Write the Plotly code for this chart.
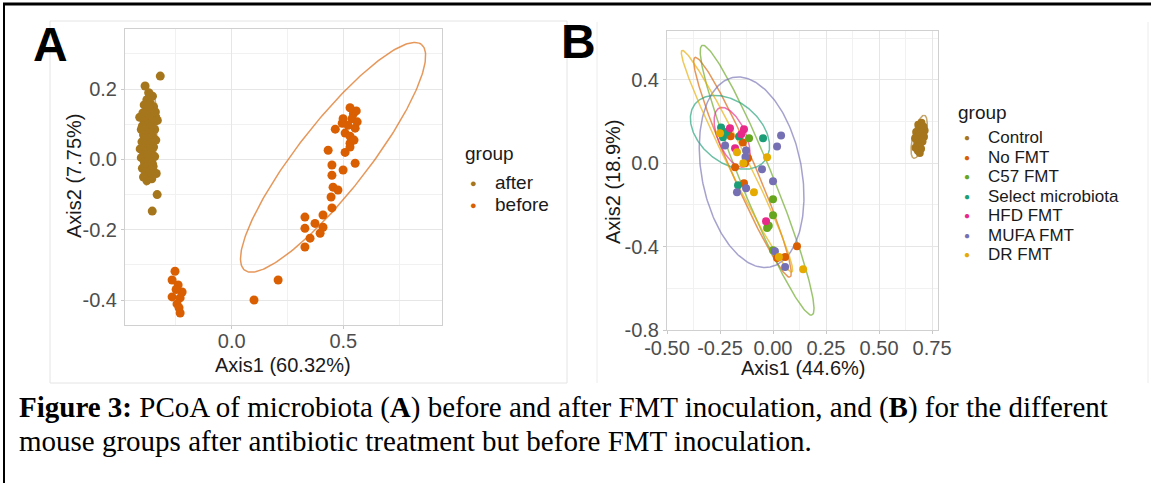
import numpy as np
import plotly.graph_objects as go

W, H = 1151, 483

# ---------------- Panel A data ----------------
groups_a = ["after", "before"]
colors_a = ["#A6761D", "#D95F02"]

after_x = [-0.320, -0.388, -0.334, -0.356, -0.372, -0.355, -0.380, -0.365, -0.392,
           -0.350, -0.375, -0.360, -0.398, -0.384, -0.340, -0.368, -0.392, -0.352,
           -0.378, -0.400, -0.362, -0.345, -0.385, -0.370, -0.395, -0.355, -0.378,
           -0.340, -0.402, -0.365, -0.388, -0.350, -0.375, -0.398, -0.360, -0.382,
           -0.345, -0.405, -0.370, -0.390, -0.355, -0.378, -0.400, -0.362, -0.385,
           -0.348, -0.372, -0.395, -0.358, -0.380, -0.405, -0.342, -0.410, -0.352,
           -0.333, -0.338, -0.412, -0.368]
after_y = [0.237, 0.209, -0.100, -0.147, 0.190, 0.180, 0.170, 0.160, 0.155,
           0.150, 0.145, 0.138, 0.132, 0.128, 0.120, 0.118, 0.110, 0.105,
           0.100, 0.095, 0.092, 0.085, 0.082, 0.075, 0.070, 0.066, 0.060,
           0.055, 0.050, 0.045, 0.040, 0.035, 0.030, 0.025, 0.018, 0.012,
           0.008, 0.005, 0.000, -0.008, -0.012, -0.020, -0.025, -0.030, -0.035,
           -0.038, -0.045, -0.050, -0.055, -0.060, 0.085, 0.135, 0.030, -0.020,
           0.111, -0.040, 0.120, 0.183]

before_x = [0.545, 0.464, 0.432, 0.495, 0.553, 0.449, 0.449, 0.499, 0.454, 0.476,
            0.445, 0.449, 0.409, 0.328, 0.373, 0.409, 0.328, 0.396, 0.351, 0.328,
            0.530, 0.508, 0.530, 0.558, 0.539, 0.521, 0.553, 0.508, 0.530, 0.548,
            0.499, 0.562, 0.530, 0.100, 0.208,
            -0.254, -0.267, -0.240, -0.222, -0.267, -0.231, -0.245, -0.236, -0.231, -0.249]
before_y = [0.130, 0.086, 0.026, 0.103, -0.011, -0.016, -0.045, -0.030, -0.079, -0.087,
            -0.107, -0.138, -0.158, -0.164, -0.182, -0.193, -0.196, -0.210, -0.224, -0.249,
            0.046, 0.020, 0.035, 0.138, 0.116, 0.097, 0.089, 0.075, 0.066, 0.055,
            0.116, 0.107, 0.147, -0.400, -0.343,
            -0.318, -0.343, -0.357, -0.377, -0.391, -0.394, -0.411, -0.422, -0.437, -0.370]

# ellipse parameters: centre, major half-vector, minor half-vector (data units)
ell_a_cx = [-0.372, 0.454]
ell_a_cy = [0.062, 0.006]
ell_a_ax = [0.010, 0.396]
ell_a_ay = [0.135, 0.321]
ell_a_bx = [0.036, 0.123]
ell_a_by = [-0.002, -0.061]

# ---------------- Panel B data ----------------
groups_b = ["Control", "No FMT", "C57 FMT", "Select microbiota", "HFD FMT", "MUFA FMT", "DR FMT"]
colors_b = ["#A6761D", "#D95F02", "#66A61E", "#1B9E77", "#E7298A", "#7570B3", "#E6AB02"]

b_x = [
    [0.700, 0.685, 0.710, 0.690, 0.715, 0.675, 0.700, 0.688, 0.712, 0.670, 0.695, 0.705,
     0.680, 0.690, 0.672, 0.698, 0.683, 0.692],
    [-0.212, -0.142, -0.179, -0.132, -0.137, -0.118, 0.019, 0.057, 0.113, -0.200],
    [-0.113, 0.000, 0.000, -0.028, 0.000, -0.020],
    [-0.245, -0.160, -0.047, -0.236, -0.165, -0.220],
    [-0.203, -0.137, -0.179, -0.033, -0.150],
    [0.038, 0.019, -0.226, -0.127, -0.052, 0.000, -0.170, -0.127, 0.009, 0.057, -0.130],
    [-0.170, -0.028, -0.250, -0.090, 0.028, 0.142, -0.140],
]
b_y = [
    [0.195, 0.185, 0.175, 0.165, 0.158, 0.150, 0.145, 0.135, 0.128, 0.120, 0.115, 0.105,
     0.098, 0.085, 0.075, 0.070, 0.060, 0.050],
    [0.144, 0.100, -0.019, 0.000, -0.096, 0.024, -0.455, -0.450, -0.398, 0.130],
    [0.120, -0.172, -0.249, -0.311, -0.417, -0.300],
    [0.172, 0.129, 0.120, 0.125, -0.105, 0.150],
    [0.168, 0.163, 0.072, -0.278, 0.140],
    [0.134, 0.081, 0.086, 0.062, -0.029, -0.086, -0.139, -0.120, -0.422, -0.498, 0.030],
    [0.053, 0.029, 0.144, -0.139, -0.450, -0.508, 0.000],
]

ell_b_cx = [0.689, -0.144, -0.075, -0.203, -0.193, -0.101, -0.170]
ell_b_cy = [0.127, -0.019, -0.081, 0.149, 0.125, -0.043, 0.010]
ell_b_ax = [0.021, 0.224, 0.259, 0.163, 0.059, 0.087, 0.259]
ell_b_ay = [0.103, -0.527, -0.647, -0.138, -0.141, -0.455, -0.532]
ell_b_bx = [0.032, 0.052, 0.070, 0.091, 0.061, 0.231, 0.042]
ell_b_by = [0.007, 0.023, 0.029, 0.111, 0.026, 0.046, 0.021]

caption1 = ("<b>Figure 3:</b> PCoA of microbiota (<b>A</b>) before and after FMT inoculation, "
            "and (<b>B</b>) for the different")
caption2 = "mouse groups after antibiotic treatment but before FMT inoculation."


def rgba(hexc, a):
    h = hexc.lstrip("#")
    return "rgba(%d,%d,%d,%.2f)" % (int(h[0:2], 16), int(h[2:4], 16), int(h[4:6], 16), a)


def ellipse(cx, cy, ax, ay, bx, by):
    t = np.linspace(0, 2 * np.pi, 240)
    return cx + ax * np.cos(t) + bx * np.sin(t), cy + ay * np.cos(t) + by * np.sin(t)


def px(x):
    return x / W


def py(y):
    return 1 - y / H


fig = go.Figure()

# Panel A
for i, g in enumerate(groups_a):
    ex, ey = ellipse(ell_a_cx[i], ell_a_cy[i], ell_a_ax[i], ell_a_ay[i], ell_a_bx[i], ell_a_by[i])
    fig.add_trace(go.Scatter(x=ex, y=ey, mode="lines", line=dict(color=rgba(colors_a[i], 0.65), width=1.5),
                             xaxis="x", yaxis="y", showlegend=False, hoverinfo="skip"))
fig.add_trace(go.Scatter(x=after_x, y=after_y, mode="markers", name="after",
                         marker=dict(color=colors_a[0], size=9), xaxis="x", yaxis="y", showlegend=False))
fig.add_trace(go.Scatter(x=before_x, y=before_y, mode="markers", name="before",
                         marker=dict(color=colors_a[1], size=9), xaxis="x", yaxis="y", showlegend=False))

# Panel B
for i, g in enumerate(groups_b):
    ex, ey = ellipse(ell_b_cx[i], ell_b_cy[i], ell_b_ax[i], ell_b_ay[i], ell_b_bx[i], ell_b_by[i])
    fig.add_trace(go.Scatter(x=ex, y=ey, mode="lines", line=dict(color=rgba(colors_b[i], 0.65), width=1.5),
                             xaxis="x2", yaxis="y2", showlegend=False, hoverinfo="skip"))
for i, g in enumerate(groups_b):
    fig.add_trace(go.Scatter(x=b_x[i], y=b_y[i], mode="markers", name=g,
                             marker=dict(color=colors_b[i], size=8), xaxis="x2", yaxis="y2",
                             showlegend=False))

tickfont = dict(family="Liberation Sans, Arial", size=20, color="#4D4D4D")
axis_common = dict(showline=True, linecolor="#D0D0D0", linewidth=1, mirror=True,
                   ticks="outside", ticklen=3, tickcolor="#C8C8C8", automargin=False,
                   showgrid=True, gridcolor="#E6E6E6", gridwidth=1, zeroline=False,
                   tickfont=tickfont, fixedrange=True)

fig.update_layout(
    width=W, height=H, autosize=False,
    margin=dict(l=0, r=0, t=0, b=0, pad=0, autoexpand=False),
    paper_bgcolor="white", plot_bgcolor="white",
    showlegend=False,
    xaxis=dict(domain=[px(125), px(442)], range=[-0.478, 0.942], anchor="y",
               tickvals=[0, 0.5], ticktext=["0.0", "0.5"], ticklabelstandoff=-5,
               minor=dict(tickvals=[-0.25, 0.25, 0.75], showgrid=True, gridcolor="#F1F1F1", ticks=""),
               **axis_common),
    yaxis=dict(domain=[py(325), py(29)], range=[-0.471, 0.371], anchor="x",
               tickvals=[-0.4, -0.2, 0, 0.2], ticktext=["-0.4", "-0.2", "0.0", "0.2"],
               minor=dict(tickvals=[-0.3, -0.1, 0.1, 0.3], showgrid=True, gridcolor="#F1F1F1", ticks=""),
               **axis_common),
    xaxis2=dict(domain=[px(667), px(938)], range=[-0.5, 0.778], anchor="y2",
                tickvals=[-0.5, -0.25, 0, 0.25, 0.5, 0.75],
                ticktext=["-0.50", "-0.25", "0.00", "0.25", "0.50", "0.75"], ticklabelstandoff=-3,
                minor=dict(tickvals=[-0.375, -0.125, 0.125, 0.375, 0.625], showgrid=True,
                           gridcolor="#F1F1F1", ticks=""),
                **axis_common),
    yaxis2=dict(domain=[py(330), py(31)], range=[-0.8, 0.635], anchor="x2",
                tickvals=[-0.8, -0.4, 0, 0.4], ticktext=["-0.8", "-0.4", "0.0", "0.4"],
                minor=dict(tickvals=[-0.6, -0.2, 0.2, 0.6], showgrid=True, gridcolor="#F1F1F1", ticks=""),
                **axis_common),
)

anns = []
sans = "Liberation Sans, Arial"
serif = "Liberation Serif, Times New Roman"


def ann(text, x, y, size, color="#000000", xanchor="center", yanchor="middle", angle=0,
        family=sans, align="center"):
    anns.append(dict(text=text, x=px(x), y=py(y), xref="paper", yref="paper", showarrow=False,
                     xanchor=xanchor, yanchor=yanchor, textangle=angle, align=align,
                     font=dict(family=family, size=size, color=color)))


# panel letters
ann("<b>A</b>", 31, 44, 48, xanchor="left")
ann("<b>B</b>", 559, 42, 48, xanchor="left")

# axis titles
ann("Axis1 (60.32%)", 283, 365, 20, color="#1A1A1A")
ann("Axis2 (7.75%)", 74, 176, 20, color="#1A1A1A", angle=-90)
ann("Axis1 (44.6%)", 803, 368, 20, color="#1A1A1A")
ann("Axis2 (18.9%)", 613, 182, 20, color="#1A1A1A", angle=-90)


def legend_block(title, title_y, names, cols, first_y, step, key_x, text_x, key_size, text_size):
    base = step / 1.3  # line spacing of a multi-line annotation is 1.3 em of its base font
    ann(title, text_x - 30, title_y, 19, color="#1A1A1A", xanchor="left")
    mid = first_y + step * (len(names) - 1) / 2
    keys = "<br>".join("<span style='color:%s;font-size:%dpx'>●</span>" % (c, key_size) for c in cols)
    labels = "<br>".join("<span style='font-size:%spx'>%s</span>" % (text_size, n) for n in names)
    ann(keys, key_x, mid, base, xanchor="center", align="center")
    ann(labels, text_x, mid, base, color="#1A1A1A", xanchor="left", align="left")


legend_block("group", 153, groups_a, colors_a, 183, 21.7, 473, 493, 11, 19)
legend_block("group", 113, groups_b, colors_b, 138, 19.5, 967, 986, 10, 17)

# caption
ann(caption1, 17, 407, 29, xanchor="left", family=serif)
ann(caption2, 17, 441, 29, xanchor="left", family=serif)

fig.update_layout(annotations=anns)

shapes = [
    # outer frame
    dict(type="line", xref="paper", yref="paper", x0=px(3), x1=1, y0=py(4), y1=py(4),
         line=dict(color="black", width=3)),
    dict(type="line", xref="paper", yref="paper", x0=px(4), x1=px(4), y0=py(3), y1=0,
         line=dict(color="black", width=2)),
    # embedded image borders
    dict(type="rect", xref="paper", yref="paper", x0=px(50), x1=px(567), y0=py(383), y1=py(21),
         line=dict(color="#E4E4E4", width=1)),
    dict(type="line", xref="paper", yref="paper", x0=px(597), x1=px(597), y0=py(383), y1=py(22),
         line=dict(color="#ECECEC", width=1)),
    dict(type="line", xref="paper", yref="paper", x0=px(1148), x1=px(1148), y0=py(383), y1=py(22),
         line=dict(color="#ECECEC", width=1)),
]
fig.update_layout(shapes=shapes)

fig.write_html("out.html", config={"displayModeBar": False},
               post_script="document.body.style.margin='0px'; document.body.style.overflow='hidden';")
